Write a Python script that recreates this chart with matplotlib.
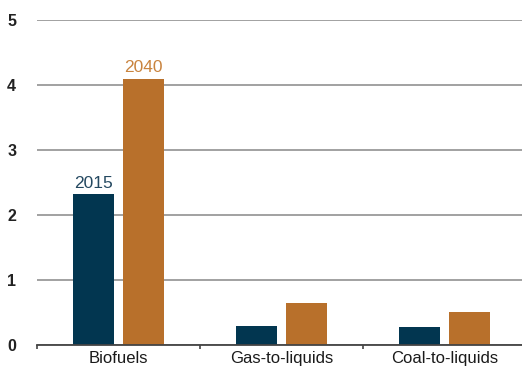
import matplotlib
matplotlib.use("Agg")
import matplotlib.pyplot as plt
import numpy as np

plt.rcParams['font.family'] = ['Liberation Sans', 'DejaVu Sans']

categories = ["Biofuels", "Gas-to-liquids", "Coal-to-liquids"]
years = ["2015", "2040"]
values_2015 = [2.32, 0.29, 0.27]
values_2040 = [4.10, 0.65, 0.51]
yticks = [0, 1, 2, 3, 4, 5]

navy = "#023650"
orange = "#b8702b"

W, H = 522, 368
fig = plt.figure(figsize=(W / 100, H / 100), dpi=100)
ax = fig.add_axes([37 / W, 23 / H, 1 - 37 / W, (345 - 20) / H])

x = np.arange(len(categories))
bw = 0.255
off = 0.153
ax.bar(x - off, values_2015, bw, color=navy, zorder=3)
ax.bar(x + off, values_2040, bw, color=orange, zorder=3)

# year labels above the Biofuels pair
ax.text(x[0] - off, values_2015[0] + 0.05, years[0], ha="center", va="bottom",
        color="#244860", fontsize=12.5)
ax.text(x[0] + off, values_2040[0] + 0.05, years[1], ha="center", va="bottom",
        color="#c9843f", fontsize=12.5)

ax.set_ylim(0, 5)
ax.set_xlim(-0.5, 2.5 - 0.025)
ax.set_yticks(yticks)
ax.set_yticklabels([str(t) for t in yticks], fontweight="bold", fontsize=11.5,
                   color="#222222")
ax.yaxis.grid(True, color="#9a9a9a", linewidth=1.3, zorder=0)
ax.tick_params(axis="y", length=0, pad=15)

# category labels centred, short ticks at the category boundaries
ax.set_xticks(x)
ax.set_xticklabels(categories, fontsize=12, color="#1a1a1a")
ax.tick_params(axis="x", which="major", length=0, pad=4)
ax.set_xticks([-0.5, 0.5, 1.5], minor=True)
ax.tick_params(axis="x", which="minor", length=3, width=1.2, color="#444444")

for s in ["top", "right", "left"]:
    ax.spines[s].set_visible(False)
ax.spines["bottom"].set_color("#444444")
ax.spines["bottom"].set_linewidth(1.3)
ax.spines["bottom"].set_zorder(4)

fig.savefig("out.png", dpi=100, facecolor="white")
